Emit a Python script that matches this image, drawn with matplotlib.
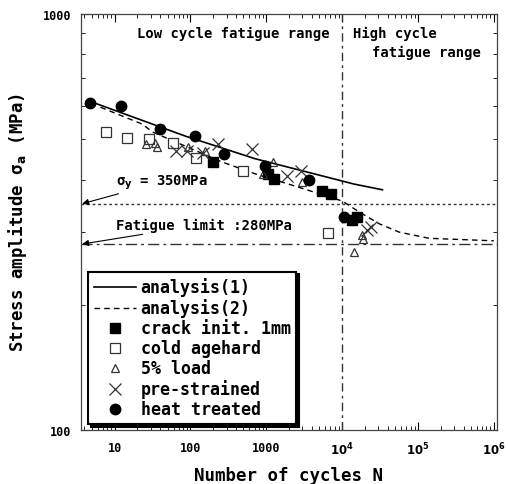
import matplotlib
matplotlib.use("Agg")
import matplotlib.pyplot as plt
import numpy as np
from matplotlib.ticker import FixedLocator, LogLocator, NullFormatter

plt.rcParams['font.family'] = ['DejaVu Sans Mono', 'DejaVu Sans']
plt.rcParams['font.weight'] = 'bold'
plt.rcParams['axes.labelweight'] = 'bold'
plt.rcParams['mathtext.default'] = 'bf'

# analysis curves (cycles, stress MPa)
an1_n = [4.6, 85, 710, 14500, 34000]
an1_s = [618, 509, 449, 390, 378]
an2_n = [6.5, 23, 32, 260, 710, 2600, 10100, 16900, 31000, 56600, 140000, 1e6]
an2_s = [597, 544, 520, 441, 413, 384, 355, 334, 313, 299, 289, 285]

# test data
crack_n = [200, 1050, 1260, 5370, 7060, 13500, 15500]
crack_s = [441, 413, 401, 376, 369, 319, 326]
cold_n = [7.6, 14.4, 28, 59, 119, 493, 6600]
cold_s = [520, 504, 500, 490, 451, 420, 298]
load_n = [26, 34, 36, 94, 155, 910, 1230, 2930, 18000, 19000, 14200]
load_s = [488, 490, 480, 479, 469, 412, 441, 395, 295, 288, 268]
pre_n = [65, 90, 148, 232, 650, 1860, 2900, 21000, 24000]
pre_s = [469, 468, 463, 487, 474, 408, 420, 302, 308]
heat_n = [4.8, 12, 40, 115, 278, 960, 3700, 10700]
heat_s = [611, 601, 529, 509, 460, 431, 399, 325]

sigma_y = 350
fatigue_limit = 280
n_transition = 1e4

fig = plt.figure(figsize=(5.08, 4.85), dpi=100)
ax = fig.add_axes([0.1594, 0.1113, 0.8189, 0.8577])
ax.set_xscale('log')
ax.set_yscale('log')
ax.set_xlim(3.6, 1.1e6)
ax.set_ylim(100, 1000)

# reference lines
ax.axhline(sigma_y, color='#333333', lw=1, ls=(0, (2, 2)))
ax.axhline(fatigue_limit, color='#333333', lw=1, ls=(0, (8, 3, 2, 3)))
ax.axvline(n_transition, color='#333333', lw=1, ls=(0, (6, 3, 2, 3)))

ax.plot(an1_n, an1_s, color='black', lw=1.2, label='analysis(1)')
ax.plot(an2_n, an2_s, color='black', lw=1.0, ls=(0, (4, 3)), label='analysis(2)')
ax.plot(crack_n, crack_s, 's', color='black', ms=7.5, label='crack init. 1mm')
ax.plot(cold_n, cold_s, 's', mfc='white', mec='#333333', mew=0.9, ms=7.5,
        label='cold agehard')
ax.plot(load_n, load_s, '^', mfc='none', mec='#333333', mew=0.9, ms=6,
        label='5% load')
ax.plot(pre_n, pre_s, 'x', color='#333333', mew=0.9, ms=8, label='pre-strained')
ax.plot(heat_n, heat_s, 'o', color='black', ms=7.5, label='heat treated')

# region labels
ax.text(0.135, 0.955, 'Low cycle fatigue range', transform=ax.transAxes,
        fontsize=10, va='center', ha='left')
ax.text(0.654, 0.955, 'High cycle', transform=ax.transAxes,
        fontsize=10, va='center', ha='left')
ax.text(0.70, 0.91, 'fatigue range', transform=ax.transAxes,
        fontsize=10, va='center', ha='left')

# annotations
ax.annotate('σ$_y$ = 350MPa', xy=(3.75, sigma_y), xytext=(10.5, 395),
            fontsize=10, va='center', ha='left',
            arrowprops=dict(arrowstyle='-|>', color='black', lw=0.8,
                            shrinkA=0, shrinkB=0, mutation_scale=9))
ax.annotate('Fatigue limit :280MPa', xy=(3.75, fatigue_limit), xytext=(10.5, 312),
            fontsize=10, va='center', ha='left',
            arrowprops=dict(arrowstyle='-|>', color='black', lw=0.8,
                            shrinkA=0, shrinkB=0, mutation_scale=9))

# ticks
ax.xaxis.set_major_locator(FixedLocator([10, 100, 1000, 1e4, 1e5, 1e6]))
ax.set_xticklabels(['10', '100', '1000', '$10^4$', '$10^5$', '$10^6$'])
ax.xaxis.set_minor_locator(LogLocator(base=10, subs=np.arange(2, 10)))
ax.xaxis.set_minor_formatter(NullFormatter())
ax.yaxis.set_major_locator(FixedLocator([100, 1000]))
ax.set_yticklabels(['100', '1000'])
ax.yaxis.set_minor_locator(LogLocator(base=10, subs=np.arange(2, 10)))
ax.yaxis.set_minor_formatter(NullFormatter())
ax.tick_params(which='both', direction='in', top=True, right=True, labelsize=8.5)
ax.tick_params(which='major', length=6, width=0.8)
ax.tick_params(which='minor', length=3, width=0.6)
ax.tick_params(axis='x', pad=8)
ax.tick_params(axis='y', pad=7)
for s in ax.spines.values():
    s.set_linewidth(0.9)
    s.set_color('#444444')

ax.set_xlabel('Number of cycles N', fontsize=12.5, labelpad=6)
ax.set_ylabel('Stress amplitude σ$_a$ (MPa)', fontsize=12.5, labelpad=10)

leg = ax.legend(loc='lower left', bbox_to_anchor=(0.017, 0.014), fontsize=12,
                frameon=True, fancybox=False, edgecolor='black',
                shadow={'color': 'black', 'alpha': 1},
                handlelength=2.5, handletextpad=0.3, labelspacing=0.12,
                borderpad=0.35, borderaxespad=0, framealpha=1)
leg.get_frame().set_linewidth(1.5)

fig.savefig('out.png', dpi=100)
